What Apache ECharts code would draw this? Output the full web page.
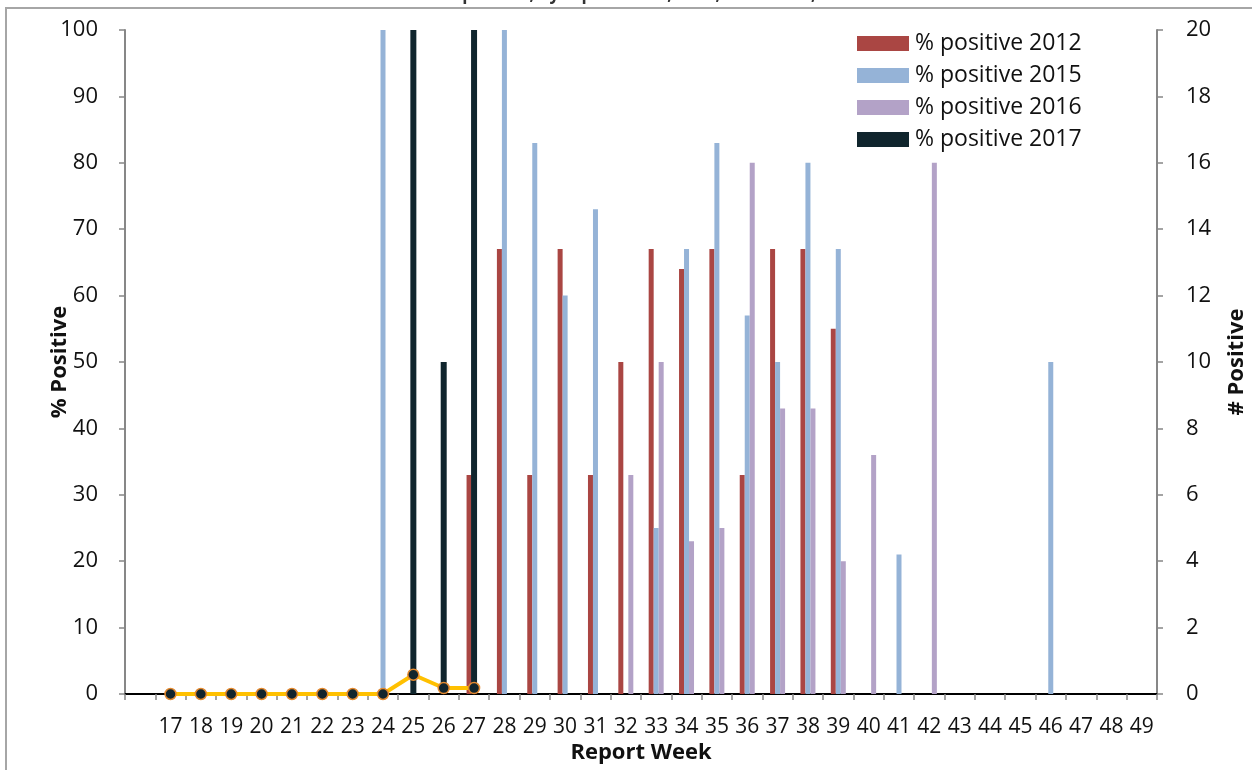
<!DOCTYPE html>
<html>
<head>
<meta charset="utf-8">
<script src="https://cdn.jsdelivr.net/npm/echarts@6/dist/echarts.min.js"></script>
<style>
html,body{margin:0;padding:0;background:#fff;}
#chart{width:1252px;height:770px;}
</style>
</head>
<body>
<div id="chart"></div>
<script>
var weeks = ['', '17','18','19','20','21','22','23','24','25','26','27','28','29','30','31','32','33','34','35','36','37','38','39','40','41','42','43','44','45','46','47','48','49'];
var pos2012 = [null,null,null,null,null,null,null,null,null,null,null,33,67,33,67,33,50,67,64,67,33,67,67,55,null,null,null,null,null,null,null,null,null,null];
var pos2015 = [null,null,null,null,null,null,null,null,100,null,null,null,100,83,60,73,null,25,67,83,57,50,80,67,null,21,null,null,null,null,50,null,null,null];
var pos2016 = [null,null,null,null,null,null,null,null,null,null,null,null,null,null,null,null,33,50,23,25,80,43,43,20,36,null,80,null,null,null,null,null,null,null];
var pos2017 = [null,null,null,null,null,null,null,null,null,100,50,100,null,null,null,null,null,null,null,null,null,null,null,null,null,null,null,null,null,null,null,null,null,null];
var numPositive = [null,0,0,0,0,0,0,0,0,0.58,0.18,0.18,null,null,null,null,null,null,null,null,null,null,null,null,null,null,null,null,null,null,null,null,null,null];
var leftTicks = [0,10,20,30,40,50,60,70,80,90,100];
var rightTicks = [0,2,4,6,8,10,12,14,16,18,20];

var FONT = 'Open Sans';
var chart = echarts.init(document.getElementById('chart'), null, {renderer:'canvas'});
var axisGray = '#878787';
chart.setOption({
  animation: false,
  textStyle: {fontFamily: FONT},
  title: {
    text: '% tested positive, by report week, 2012, 2015\u20132017, and #',
    left: 'center', top: -18,
    textStyle: {fontFamily: FONT, fontSize: 17, fontWeight: 'bold', color: '#333'}
  },
  graphic: [{
    type: 'rect', silent: true, z: -1,
    shape: {x: 6, y: 8, width: 1300, height: 820},
    style: {fill: 'none', stroke: '#A6A6A6', lineWidth: 2}
  }],
  legend: {
    orient: 'vertical', left: 852, top: 27,
    itemWidth: 52, itemHeight: 15, itemGap: 9,
    icon: 'rect',
    data: ['% positive 2012','% positive 2015','% positive 2016','% positive 2017'],
    textStyle: {fontFamily: FONT, fontSize: 23, lineHeight: 20, color: '#111', padding: [0,0,0,1]}
  },
  grid: {left: 125, right: 95, top: 30, bottom: 76, outerBoundsMode: 'none', containLabel: false},
  xAxis: [{
    type: 'category', data: weeks, position: 'bottom',
    name: 'Report Week', nameLocation: 'middle', nameGap: 48, nameMoveOverlap: false,
    nameTextStyle: {fontFamily: FONT, fontSize: 22, fontWeight: 'bold', color: '#111'},
    axisLine: {lineStyle: {color: axisGray, width: 2}},
    axisTick: {show: true, alignWithLabel: false, length: 6, inside: false, lineStyle: {color: axisGray, width: 1.5}},
    axisLabel: {fontFamily: FONT, fontSize: 21, color: '#111', margin: 23, interval: 0},
    splitLine: {show: false}
  }, {
    type: 'category', data: weeks, position: 'top',
    axisLine: {show: true, lineStyle: {color: '#000', width: 2}},
    axisTick: {show: false}, axisLabel: {show: false}, splitLine: {show: false}
  }],
  yAxis: [{
    type: 'value', min: 0, max: 100, interval: 10,
    name: '% Positive', nameLocation: 'middle', nameGap: 54, nameRotate: 90, nameMoveOverlap: false,
    nameTextStyle: {fontFamily: FONT, fontSize: 22, fontWeight: 'bold', color: '#111'},
    axisLine: {show: true, lineStyle: {color: axisGray, width: 2}},
    axisTick: {show: true, length: 6, lineStyle: {color: axisGray, width: 1.5}},
    axisLabel: {fontFamily: FONT, fontSize: 22, color: '#111', margin: 27,
      formatter: function(v){ return leftTicks.indexOf(v) >= 0 ? String(v) : ''; }},
    splitLine: {show: false}
  }, {
    type: 'value', min: 0, max: 20, interval: 2, position: 'right',
    name: '# Positive', nameLocation: 'middle', nameGap: 69, nameRotate: 90, nameMoveOverlap: false,
    nameTextStyle: {fontFamily: FONT, fontSize: 22, fontWeight: 'bold', color: '#111'},
    axisLine: {show: true, lineStyle: {color: axisGray, width: 2}},
    axisTick: {show: true, length: 6, lineStyle: {color: axisGray, width: 1.5}},
    axisLabel: {fontFamily: FONT, fontSize: 22, color: '#111', margin: 29,
      formatter: function(v){ return rightTicks.indexOf(v) >= 0 ? String(v) : ''; }},
    splitLine: {show: false}
  }],
  series: [
    {name: '% positive 2012', type: 'bar', xAxisIndex: 0, yAxisIndex: 0, data: pos2012,
      barWidth: 5, barGap: '0%', itemStyle: {color: '#AA4643'}},
    {name: '% positive 2015', type: 'bar', xAxisIndex: 0, yAxisIndex: 0, data: pos2015,
      barWidth: 5, barGap: '0%', itemStyle: {color: '#95B3D7'}},
    {name: '% positive 2016', type: 'bar', xAxisIndex: 0, yAxisIndex: 0, data: pos2016,
      barWidth: 5, barGap: '0%', itemStyle: {color: '#B3A2C7'}},
    {name: '% positive 2017', type: 'bar', xAxisIndex: 1, yAxisIndex: 0, data: pos2017,
      barWidth: 6, itemStyle: {color: '#10252D'}},
    {name: '# positive', type: 'line', xAxisIndex: 0, yAxisIndex: 1, data: numPositive,
      symbol: 'circle', symbolSize: 11, showAllSymbol: true, z: 5,
      lineStyle: {color: '#FFC000', width: 4},
      itemStyle: {color: '#12252D', borderColor: '#E3892F', borderWidth: 1.5}}
  ]
});
</script>
</body>
</html>
